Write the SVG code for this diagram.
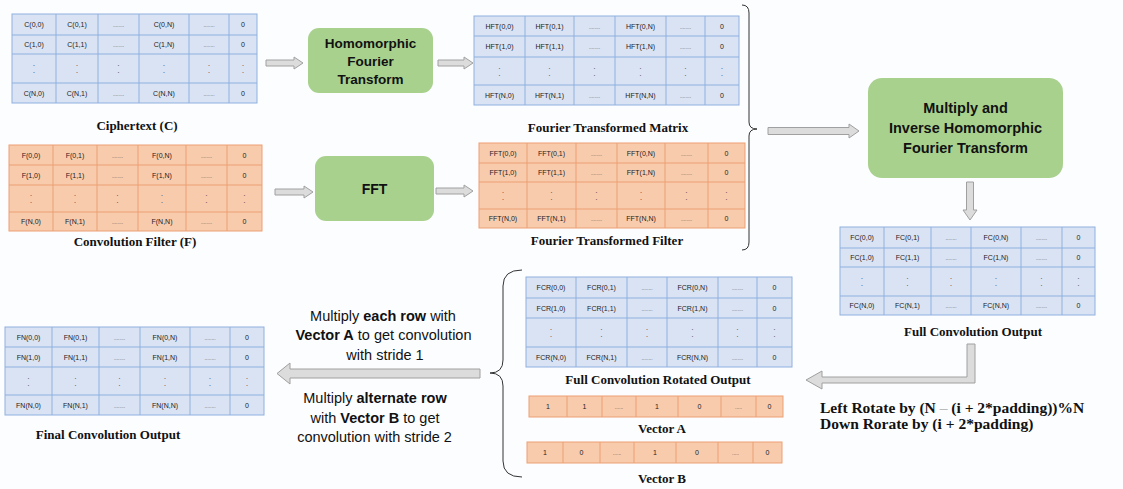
<svg xmlns="http://www.w3.org/2000/svg" width="1123" height="489" viewBox="0 0 1123 489">
<style>
.mb{fill:#dae3f3;stroke:#8fb0e0;stroke-width:1}
.mo{fill:#f8cbad;stroke:#eba072;stroke-width:1}
.gb{fill:none;stroke:#8fb0e0;stroke-width:1}
.go{fill:none;stroke:#eba072;stroke-width:1}
.t{font-family:"Liberation Sans",Arial,sans-serif;font-size:7px;fill:#222;text-anchor:middle}
.d{font-family:"Liberation Sans",Arial,sans-serif;font-size:5px;fill:#444;text-anchor:middle}
.lbl{font-family:"Liberation Serif","Times New Roman",serif;font-weight:bold;font-size:13px;fill:#111;text-anchor:middle}
.box{fill:#a9d18e}
.bt{font-family:"Liberation Sans",Arial,sans-serif;font-weight:bold;font-size:13.5px;fill:#111;text-anchor:middle}
.mt{font-family:"Liberation Sans",Arial,sans-serif;font-size:14.5px;fill:#111;text-anchor:middle}
.rt{font-family:"Liberation Serif","Times New Roman",serif;font-weight:bold;font-size:15.5px;fill:#111}
.arr{fill:#dcdcdc;stroke:#a0a0a0;stroke-width:1}
.brace{fill:none;stroke:#333;stroke-width:1}
</style>
<rect x="0" y="0" width="1123" height="489" fill="#fcfdff"/>

<g id="ciphertext">
<rect class="mb" x="12" y="14" width="245" height="89"/>
<path class="gb" d="M56,14V103M98,14V103M139,14V103M189,14V103M229,14V103M12,35H257M12,54H257M12,83H257"/>
<text class="t" x="34" y="27">C(0,0)</text><text class="t" x="77" y="27">C(0,1)</text><text class="d" x="118.5" y="27">........</text><text class="t" x="164" y="27">C(0,N)</text><text class="d" x="209" y="27">........</text><text class="t" x="243" y="27">0</text>
<text class="t" x="34" y="47">C(1,0)</text><text class="t" x="77" y="47">C(1,1)</text><text class="d" x="118.5" y="47">........</text><text class="t" x="164" y="47">C(1,N)</text><text class="d" x="209" y="47">........</text><text class="t" x="243" y="47">0</text>
<text class="t"><tspan x="34" y="66">.</tspan><tspan x="34" y="73">.</tspan></text><text class="t"><tspan x="77" y="66">.</tspan><tspan x="77" y="73">.</tspan></text><text class="t"><tspan x="118.5" y="66">.</tspan><tspan x="118.5" y="73">.</tspan></text><text class="t"><tspan x="164" y="66">.</tspan><tspan x="164" y="73">.</tspan></text><text class="t"><tspan x="209" y="66">.</tspan><tspan x="209" y="73">.</tspan></text><text class="t"><tspan x="243" y="66">.</tspan><tspan x="243" y="73">.</tspan></text>
<text class="t" x="34" y="95.5">C(N,0)</text><text class="t" x="77" y="95.5">C(N,1)</text><text class="d" x="118.5" y="95.5">........</text><text class="t" x="164" y="95.5">C(N,N)</text><text class="d" x="209" y="95.5">........</text><text class="t" x="243" y="95.5">0</text>
<text class="lbl" x="137" y="130">Ciphertext (C)</text>
</g>

<g id="hft-box">
<rect class="box" x="308" y="28" width="125" height="65" rx="11"/>
<text class="bt" x="370.5" y="48">Homomorphic</text>
<text class="bt" x="370.5" y="66">Fourier</text>
<text class="bt" x="370.5" y="84">Transform</text>
</g>

<g id="hft-matrix">
<rect class="mb" x="474" y="16" width="265" height="89"/>
<path class="gb" d="M525,16V105M574,16V105M615,16V105M666,16V105M705,16V105M474,36H739M474,57H739M474,85H739"/>
<text class="t" x="499.5" y="28.5">HFT(0,0)</text><text class="t" x="549.5" y="28.5">HFT(0,1)</text><text class="d" x="594.5" y="28.5">........</text><text class="t" x="640.5" y="28.5">HFT(0,N)</text><text class="d" x="685.5" y="28.5">........</text><text class="t" x="722" y="28.5">0</text>
<text class="t" x="499.5" y="49">HFT(1,0)</text><text class="t" x="549.5" y="49">HFT(1,1)</text><text class="d" x="594.5" y="49">........</text><text class="t" x="640.5" y="49">HFT(1,N)</text><text class="d" x="685.5" y="49">........</text><text class="t" x="722" y="49">0</text>
<text class="t"><tspan x="499.5" y="68.5">.</tspan><tspan x="499.5" y="75.5">.</tspan></text><text class="t"><tspan x="549.5" y="68.5">.</tspan><tspan x="549.5" y="75.5">.</tspan></text><text class="t"><tspan x="594.5" y="68.5">.</tspan><tspan x="594.5" y="75.5">.</tspan></text><text class="t"><tspan x="640.5" y="68.5">.</tspan><tspan x="640.5" y="75.5">.</tspan></text><text class="t"><tspan x="685.5" y="68.5">.</tspan><tspan x="685.5" y="75.5">.</tspan></text><text class="t"><tspan x="722" y="68.5">.</tspan><tspan x="722" y="75.5">.</tspan></text>
<text class="t" x="499.5" y="97.5">HFT(N,0)</text><text class="t" x="549.5" y="97.5">HFT(N,1)</text><text class="d" x="594.5" y="97.5">........</text><text class="t" x="640.5" y="97.5">HFT(N,N)</text><text class="d" x="685.5" y="97.5">........</text><text class="t" x="722" y="97.5">0</text>
<text class="lbl" x="608" y="131.5">Fourier Transformed Matrix</text>
</g>

<g id="filter">
<rect class="mo" x="9" y="145" width="253" height="86"/>
<path class="go" d="M53,145V231M97,145V231M138,145V231M186,145V231M227,145V231M9,165H262M9,185H262M9,212H262"/>
<text class="t" x="31" y="157.5">F(0,0)</text><text class="t" x="75" y="157.5">F(0,1)</text><text class="d" x="117.5" y="157.5">........</text><text class="t" x="162" y="157.5">F(0,N)</text><text class="d" x="206.5" y="157.5">........</text><text class="t" x="244.5" y="157.5">0</text>
<text class="t" x="31" y="177.5">F(1,0)</text><text class="t" x="75" y="177.5">F(1,1)</text><text class="d" x="117.5" y="177.5">........</text><text class="t" x="162" y="177.5">F(1,N)</text><text class="d" x="206.5" y="177.5">........</text><text class="t" x="244.5" y="177.5">0</text>
<text class="t"><tspan x="31" y="196">.</tspan><tspan x="31" y="203">.</tspan></text><text class="t"><tspan x="75" y="196">.</tspan><tspan x="75" y="203">.</tspan></text><text class="t"><tspan x="117.5" y="196">.</tspan><tspan x="117.5" y="203">.</tspan></text><text class="t"><tspan x="162" y="196">.</tspan><tspan x="162" y="203">.</tspan></text><text class="t"><tspan x="206.5" y="196">.</tspan><tspan x="206.5" y="203">.</tspan></text><text class="t"><tspan x="244.5" y="196">.</tspan><tspan x="244.5" y="203">.</tspan></text>
<text class="t" x="31" y="224">F(N,0)</text><text class="t" x="75" y="224">F(N,1)</text><text class="d" x="117.5" y="224">........</text><text class="t" x="162" y="224">F(N,N)</text><text class="d" x="206.5" y="224">........</text><text class="t" x="244.5" y="224">0</text>
<text class="lbl" x="135" y="246">Convolution Filter (F)</text>
</g>

<g id="fft-box">
<rect class="box" x="315" y="156" width="119" height="65" rx="11"/>
<text class="bt" x="374.5" y="194" style="font-size:14px">FFT</text>
</g>

<g id="fft-matrix">
<rect class="mo" x="479" y="143" width="266" height="85"/>
<path class="go" d="M527,143V228M576,143V228M617,143V228M665,143V228M708,143V228M479,163H745M479,182H745M479,209H745"/>
<text class="t" x="503" y="155.5">FFT(0,0)</text><text class="t" x="551.5" y="155.5">FFT(0,1)</text><text class="d" x="596.5" y="155.5">........</text><text class="t" x="641" y="155.5">FFT(0,N)</text><text class="d" x="686.5" y="155.5">........</text><text class="t" x="726.5" y="155.5">0</text>
<text class="t" x="503" y="175">FFT(1,0)</text><text class="t" x="551.5" y="175">FFT(1,1)</text><text class="d" x="596.5" y="175">........</text><text class="t" x="641" y="175">FFT(1,N)</text><text class="d" x="686.5" y="175">........</text><text class="t" x="726.5" y="175">0</text>
<text class="t"><tspan x="503" y="193">.</tspan><tspan x="503" y="200">.</tspan></text><text class="t"><tspan x="551.5" y="193">.</tspan><tspan x="551.5" y="200">.</tspan></text><text class="t"><tspan x="596.5" y="193">.</tspan><tspan x="596.5" y="200">.</tspan></text><text class="t"><tspan x="641" y="193">.</tspan><tspan x="641" y="200">.</tspan></text><text class="t"><tspan x="686.5" y="193">.</tspan><tspan x="686.5" y="200">.</tspan></text><text class="t"><tspan x="726.5" y="193">.</tspan><tspan x="726.5" y="200">.</tspan></text>
<text class="t" x="503" y="221">FFT(N,0)</text><text class="t" x="551.5" y="221">FFT(N,1)</text><text class="d" x="596.5" y="221">........</text><text class="t" x="641" y="221">FFT(N,N)</text><text class="d" x="686.5" y="221">........</text><text class="t" x="726.5" y="221">0</text>
<text class="lbl" x="607" y="245">Fourier Transformed Filter</text>
</g>

<g id="multiply-box">
<rect class="box" x="868" y="78" width="195" height="100" rx="14"/>
<text class="bt" x="965.5" y="113" style="font-size:14.5px">Multiply and</text>
<text class="bt" x="965.5" y="133" style="font-size:14.5px">Inverse Homomorphic</text>
<text class="bt" x="965.5" y="153" style="font-size:14.5px">Fourier Transform</text>
</g>

<g id="full-conv">
<rect class="mb" x="840" y="227" width="255" height="88"/>
<path class="gb" d="M884,227V315M931,227V315M971,227V315M1021,227V315M1062,227V315M840,248H1095M840,267H1095M840,296H1095"/>
<text class="t" x="862" y="240">FC(0,0)</text><text class="t" x="907.5" y="240">FC(0,1)</text><text class="d" x="951" y="240">........</text><text class="t" x="996" y="240">FC(0,N)</text><text class="d" x="1041.5" y="240">........</text><text class="t" x="1078.5" y="240">0</text>
<text class="t" x="862" y="260">FC(1,0)</text><text class="t" x="907.5" y="260">FC(1,1)</text><text class="d" x="951" y="260">........</text><text class="t" x="996" y="260">FC(1,N)</text><text class="d" x="1041.5" y="260">........</text><text class="t" x="1078.5" y="260">0</text>
<text class="t"><tspan x="862" y="279">.</tspan><tspan x="862" y="286">.</tspan></text><text class="t"><tspan x="907.5" y="279">.</tspan><tspan x="907.5" y="286">.</tspan></text><text class="t"><tspan x="951" y="279">.</tspan><tspan x="951" y="286">.</tspan></text><text class="t"><tspan x="996" y="279">.</tspan><tspan x="996" y="286">.</tspan></text><text class="t"><tspan x="1041.5" y="279">.</tspan><tspan x="1041.5" y="286">.</tspan></text><text class="t"><tspan x="1078.5" y="279">.</tspan><tspan x="1078.5" y="286">.</tspan></text>
<text class="t" x="862" y="308">FC(N,0)</text><text class="t" x="907.5" y="308">FC(N,1)</text><text class="d" x="951" y="308">........</text><text class="t" x="996" y="308">FC(N,N)</text><text class="d" x="1041.5" y="308">........</text><text class="t" x="1078.5" y="308">0</text>
<text class="lbl" x="973" y="335.5">Full Convolution Output</text>
</g>

<g id="rotated">
<rect class="mb" x="526" y="277" width="266" height="90"/>
<path class="gb" d="M576,277V367M627,277V367M667,277V367M718,277V367M757,277V367M526,298H792M526,318H792M526,347H792"/>
<text class="t" x="551" y="290">FCR(0,0)</text><text class="t" x="601.5" y="290">FCR(0,1)</text><text class="d" x="647" y="290">........</text><text class="t" x="692.5" y="290">FCR(0,N)</text><text class="d" x="737.5" y="290">........</text><text class="t" x="774.5" y="290">0</text>
<text class="t" x="551" y="310.5">FCR(1,0)</text><text class="t" x="601.5" y="310.5">FCR(1,1)</text><text class="d" x="647" y="310.5">........</text><text class="t" x="692.5" y="310.5">FCR(1,N)</text><text class="d" x="737.5" y="310.5">........</text><text class="t" x="774.5" y="310.5">0</text>
<text class="t"><tspan x="551" y="330">.</tspan><tspan x="551" y="337">.</tspan></text><text class="t"><tspan x="601.5" y="330">.</tspan><tspan x="601.5" y="337">.</tspan></text><text class="t"><tspan x="647" y="330">.</tspan><tspan x="647" y="337">.</tspan></text><text class="t"><tspan x="692.5" y="330">.</tspan><tspan x="692.5" y="337">.</tspan></text><text class="t"><tspan x="737.5" y="330">.</tspan><tspan x="737.5" y="337">.</tspan></text><text class="t"><tspan x="774.5" y="330">.</tspan><tspan x="774.5" y="337">.</tspan></text>
<text class="t" x="551" y="359.5">FCR(N,0)</text><text class="t" x="601.5" y="359.5">FCR(N,1)</text><text class="d" x="647" y="359.5">........</text><text class="t" x="692.5" y="359.5">FCR(N,N)</text><text class="d" x="737.5" y="359.5">........</text><text class="t" x="774.5" y="359.5">0</text>
<text class="lbl" x="658" y="383.5">Full Convolution Rotated Output</text>
</g>

<g id="vector-a">
<rect class="mo" x="529" y="396" width="254" height="21"/>
<path class="go" d="M567,396V417M602,396V417M636,396V417M678,396V417M721,396V417M756,396V417"/>
<text class="t" x="548" y="409">1</text><text class="t" x="584.5" y="409">1</text><text class="d" x="619" y="409">......</text><text class="t" x="657" y="409">1</text><text class="t" x="699.5" y="409">0</text><text class="d" x="738.5" y="409">.....</text><text class="t" x="769.5" y="409">0</text>
<text class="lbl" x="662" y="432.5">Vector A</text>
</g>

<g id="vector-b">
<rect class="mo" x="527" y="442" width="255" height="21"/>
<path class="go" d="M563,442V463M600,442V463M634,442V463M676,442V463M718,442V463M753,442V463"/>
<text class="t" x="545" y="455">1</text><text class="t" x="581.5" y="455">0</text><text class="d" x="617" y="455">......</text><text class="t" x="655" y="455">1</text><text class="t" x="697" y="455">0</text><text class="d" x="735.5" y="455">.....</text><text class="t" x="767.5" y="455">0</text>
<text class="lbl" x="662" y="482.5">Vector B</text>
</g>

<g id="final">
<rect class="mb" x="5" y="327" width="259" height="88"/>
<path class="gb" d="M52,327V415M99,327V415M140,327V415M190,327V415M230,327V415M5,347H264M5,367H264M5,395H264"/>
<text class="t" x="28.5" y="339.5">FN(0,0)</text><text class="t" x="75.5" y="339.5">FN(0,1)</text><text class="d" x="119.5" y="339.5">........</text><text class="t" x="165" y="339.5">FN(0,N)</text><text class="d" x="210" y="339.5">........</text><text class="t" x="247" y="339.5">0</text>
<text class="t" x="28.5" y="359.5">FN(1,0)</text><text class="t" x="75.5" y="359.5">FN(1,1)</text><text class="d" x="119.5" y="359.5">........</text><text class="t" x="165" y="359.5">FN(1,N)</text><text class="d" x="210" y="359.5">........</text><text class="t" x="247" y="359.5">0</text>
<text class="t"><tspan x="28.5" y="378.5">.</tspan><tspan x="28.5" y="385.5">.</tspan></text><text class="t"><tspan x="75.5" y="378.5">.</tspan><tspan x="75.5" y="385.5">.</tspan></text><text class="t"><tspan x="119.5" y="378.5">.</tspan><tspan x="119.5" y="385.5">.</tspan></text><text class="t"><tspan x="165" y="378.5">.</tspan><tspan x="165" y="385.5">.</tspan></text><text class="t"><tspan x="210" y="378.5">.</tspan><tspan x="210" y="385.5">.</tspan></text><text class="t"><tspan x="247" y="378.5">.</tspan><tspan x="247" y="385.5">.</tspan></text>
<text class="t" x="28.5" y="407.5">FN(N,0)</text><text class="t" x="75.5" y="407.5">FN(N,1)</text><text class="d" x="119.5" y="407.5">........</text><text class="t" x="165" y="407.5">FN(N,N)</text><text class="d" x="210" y="407.5">........</text><text class="t" x="247" y="407.5">0</text>
<text class="lbl" x="108" y="438.5">Final Convolution Output</text>
</g>

<g id="connectors">
<polygon class="arr" points="266,60 294,60 294,57 303,63 294,69 294,66 266,66"/>
<polygon class="arr" points="438,60 464,60 464,57 473,63 464,69 464,66 438,66"/>
<polygon class="arr" points="275,189 304,189 304,186 313,192 304,198 304,195 275,195"/>
<polygon class="arr" points="436,188 464,188 464,185 473,191 464,197 464,194 436,194"/>
<polygon class="arr" points="768,127.5 849,127.5 849,124 859,131 849,138 849,134.5 768,134.5"/>
<polygon class="arr" points="966.5,182 973.5,182 973.5,210 977,210 970,220 963,210 966.5,210"/>
<polygon class="arr" points="967,344 975,344 975,383 822,383 822,389 806,380 822,371 822,377 967,377"/>
<polygon class="arr" points="480,369 290,369 290,363 277,373.5 290,384 290,378 480,378"/>
<path class="brace" d="M742,5 Q749,5 749,13 L749,122 Q749,129 757,129 Q749,129 749,136 L749,242 Q749,250 742,250"/>
<path class="brace" d="M522,270 Q503,270 503,286 L503,360 Q503,373 490,373 Q503,373 503,386 L503,461 Q503,477 522,477"/>
</g>

<g id="stride-text">
<text class="mt" x="383" y="321">Multiply <tspan font-weight="bold">each row</tspan> with</text>
<text class="mt" x="383.5" y="340"><tspan font-weight="bold">Vector A</tspan> to get convolution</text>
<text class="mt" x="385" y="360">with stride 1</text>
<text class="mt" x="375" y="403">Multiply <tspan font-weight="bold">alternate row</tspan></text>
<text class="mt" x="375" y="423">with <tspan font-weight="bold">Vector B</tspan> to get</text>
<text class="mt" x="374.5" y="442">convolution with stride 2</text>
</g>

<g id="rotate-text">
<text class="rt" x="820" y="413">Left Rotate by (N <tspan fill="#bbb">–</tspan> (i + 2*padding))%N</text>
<text class="rt" x="820" y="429">Down Rorate by (i + 2*padding)</text>
</g>
</svg>
